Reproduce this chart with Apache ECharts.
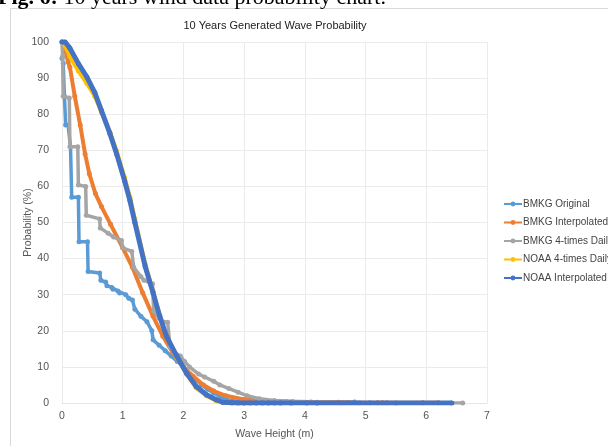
<!DOCTYPE html>
<html>
<head>
<meta charset="utf-8">
<script src="https://cdn.jsdelivr.net/npm/echarts@6/dist/echarts.min.js"></script>
<style>
  html, body { margin: 0; padding: 0; background: #fff; }
  #container { width: 608px; height: 446px; }
</style>
</head>
<body>
<div id="container"></div>
<script>
var seriesNames = ['BMKG Original', 'BMKG Interpolated', 'BMKG 4-times Daily', 'NOAA 4-times Daily', 'NOAA Interpolated'];
var seriesColors = ['#5B9BD5', '#ED7D31', '#A5A5A5', '#FFC000', '#4472C4'];

var bmkgOrigX = [0, 0.02, 0.04, 0.06, 0.1, 0.14, 0.16, 0.27, 0.28, 0.42, 0.43, 0.62, 0.64, 0.72, 0.74, 0.82, 0.84, 0.92, 0.95, 1.05, 1.1, 1.16, 1.2, 1.3, 1.4, 1.48, 1.5, 1.6, 1.7, 1.8, 1.9, 2.0, 2.1, 2.2, 2.3, 2.4, 2.5, 2.6, 2.7, 2.8, 3.0, 3.2, 3.5, 3.8, 4.2, 4.82];
var bmkgOrigP = [95.5, 94, 85, 77, 77, 71, 57, 57, 44.7, 44.7, 36.4, 36, 34, 33.5, 32.5, 32, 31.5, 31, 30.5, 30, 29, 28.5, 26, 24, 22.5, 20, 17.5, 16, 14.5, 13, 11.5, 10, 8, 6.5, 5, 3.8, 2.8, 1.8, 1, 0.6, 0.3, 0.2, 0.15, 0.1, 0.1, 0.3];

var bmkgInterpX = [0, 0.05, 0.1, 0.13, 0.21, 0.3, 0.38, 0.45, 0.55, 0.65, 0.8, 1.0, 1.16, 1.33, 1.5, 1.66, 1.83, 2.0, 2.16, 2.33, 2.5, 2.7, 3.0, 3.3, 3.7, 4.1, 4.55, 4.71, 5.2, 5.28, 5.35, 5.94, 6.2];
var bmkgInterpP = [100, 98, 94.5, 93, 85, 77, 69, 63.5, 58, 54.4, 49.5, 43, 37.6, 30.5, 24, 18.5, 13.8, 10, 7.4, 5, 3.3, 2, 1, 0.6, 0.4, 0.3, 0.2, 0.15, 0.1, 0.1, 0.1, 0.05, 0.05];

var bmkg4X = [0, 0.01, 0.02, 0.12, 0.13, 0.26, 0.27, 0.39, 0.4, 0.62, 0.63, 0.76, 0.85, 0.98, 1.0, 1.15, 1.18, 1.3, 1.35, 1.49, 1.51, 1.6, 1.68, 1.74, 1.78, 1.85, 1.95, 2.02, 2.1, 2.25, 2.35, 2.5, 2.6, 2.75, 2.9, 3.05, 3.25, 3.5, 3.8, 4.2, 4.6, 4.9, 5.07, 5.5, 6.6];
var bmkg4P = [100, 96, 85, 84.5, 71, 71, 60.4, 60, 52, 51, 48.5, 47, 46, 45, 43, 42, 37.6, 35, 34, 33, 25.5, 23.5, 22.4, 22.4, 15.5, 14, 13, 11.5, 10, 8, 7.2, 6, 5, 4, 3, 2, 1.2, 0.7, 0.4, 0.2, 0.1, 0.05, 0.05, 0.02, 0];

var noaa4X = [0, 0.05, 0.13, 0.27, 0.41, 0.54, 0.65, 0.79, 0.9, 1.03, 1.12, 1.2, 1.37, 1.5, 1.61, 1.72, 1.89, 2.05, 2.21, 2.38, 2.54, 2.65, 2.8, 3.0];
var noaa4P = [100, 99, 96, 92, 88.5, 85, 80.5, 75, 69.8, 62.5, 57, 51, 38.5, 31, 24.3, 18.5, 12.7, 8, 4.2, 2, 0.6, 0.1, 0, 0];

var noaaInterpX = [0, 0.05, 0.13, 0.27, 0.41, 0.54, 0.65, 0.79, 0.9, 1.03, 1.12, 1.2, 1.37, 1.5, 1.61, 1.72, 1.89, 2.05, 2.21, 2.38, 2.54, 2.65, 2.8, 2.9, 3.0, 3.1, 3.2, 3.3, 3.4, 3.5, 3.6, 3.77, 4.03, 4.2, 6.42];
var noaaInterpP = [100, 100, 98.3, 94, 90.3, 86, 81, 74.6, 69, 61.6, 56, 50, 37.8, 30.5, 24, 18.5, 13, 8.3, 4.6, 2.3, 0.9, 0.2, 0.1, 0, 0, 0, 0, 0, 0, 0, 0, 0, 0, 0, 0];

var xTicks = [0, 1, 2, 3, 4, 5, 6, 7];

var dom = document.getElementById('container');
var myChart = echarts.init(dom, null, { renderer: 'canvas' });

function pairs(xs, ys) {
    return xs.map(function (x, i) {
        return [x, ys[i]];
    });
}

var allData = [
    pairs(bmkgOrigX, bmkgOrigP),
    pairs(bmkgInterpX, bmkgInterpP),
    pairs(bmkg4X, bmkg4P),
    pairs(noaa4X, noaa4P),
    pairs(noaaInterpX, noaaInterpP)
];
var lineWidths = [3.5, 4, 3.5, 4, 5];
var sans = '"Liberation Sans", Arial, sans-serif';

var option = {
    animation: false,
    backgroundColor: '#fff',
    textStyle: { fontFamily: sans },
    title: {
        text: '10 Years Generated Wave Probability',
        left: 270,
        textAlign: 'center',
        top: 15,
        textStyle: { fontSize: 11, fontWeight: 'normal', color: '#222', fontFamily: sans }
    },
    graphic: [
        {
            type: 'rect',
            shape: { x: 10.5, y: 8.5, width: 700, height: 500 },
            style: { fill: 'none', stroke: '#d9d9d9', lineWidth: 1 },
            silent: true
        },
        {
            type: 'text',
            left: -2,
            top: -13,
            style: {
                text: '{b|Fig. 6:} {n|10 years wind data probability chart.}',
                rich: {
                    b: { fontFamily: '"Liberation Serif"', fontSize: 22, fontWeight: 'bold', fill: '#000' },
                    n: { fontFamily: '"Liberation Serif"', fontSize: 22, fill: '#000' }
                },
                font: '22px "Liberation Serif"',
                fill: '#000'
            }
        }
    ],
    legend: {
        orient: 'vertical',
        left: 498,
        top: 194,
        itemWidth: 18,
        itemHeight: 6,
        itemGap: 8.5,
        textStyle: { fontSize: 10, color: '#444', padding: [0, 0, 0, -4], fontFamily: sans },
        data: seriesNames
    },
    grid: {
        left: 62,
        right: 121,
        top: 42,
        bottom: 43,
        containLabel: false
    },
    xAxis: {
        type: 'value',
        min: 0,
        max: 7,
        interval: 1,
        name: 'Wave Height (m)',
        nameLocation: 'middle',
        nameGap: 26,
        nameTextStyle: { fontSize: 10.5, color: '#555' },
        axisLine: { show: true, lineStyle: { color: '#e6e6e6' } },
        axisTick: { show: false },
        axisLabel: {
            fontSize: 10.5, color: '#555', margin: 8,
            formatter: function (v) { return xTicks.indexOf(v) >= 0 ? String(v) : ''; }
        },
        splitLine: { show: true, lineStyle: { color: '#ebebeb' } }
    },
    yAxis: {
        type: 'value',
        min: 0,
        max: 100,
        interval: 10,
        name: 'Probability (%)',
        nameLocation: 'middle',
        nameGap: 28,
        nameMoveOverlap: false,
        nameTextStyle: { fontSize: 10.5, color: '#555' },
        axisLine: { show: false },
        axisTick: { show: false },
        axisLabel: { fontSize: 10.5, color: '#555', margin: 13 },
        splitLine: { show: true, lineStyle: { color: '#ebebeb' } }
    },
    series: seriesNames.map(function (name, i) {
        return {
            name: name,
            type: 'line',
            data: allData[i],
            color: seriesColors[i],
            symbol: 'circle',
            symbolSize: 5,
            showSymbol: true,
            lineStyle: { width: lineWidths[i], color: seriesColors[i] },
            itemStyle: { color: seriesColors[i] },
            z: 2 + i
        };
    })
};

myChart.setOption(option, true);
</script>
</body>
</html>
